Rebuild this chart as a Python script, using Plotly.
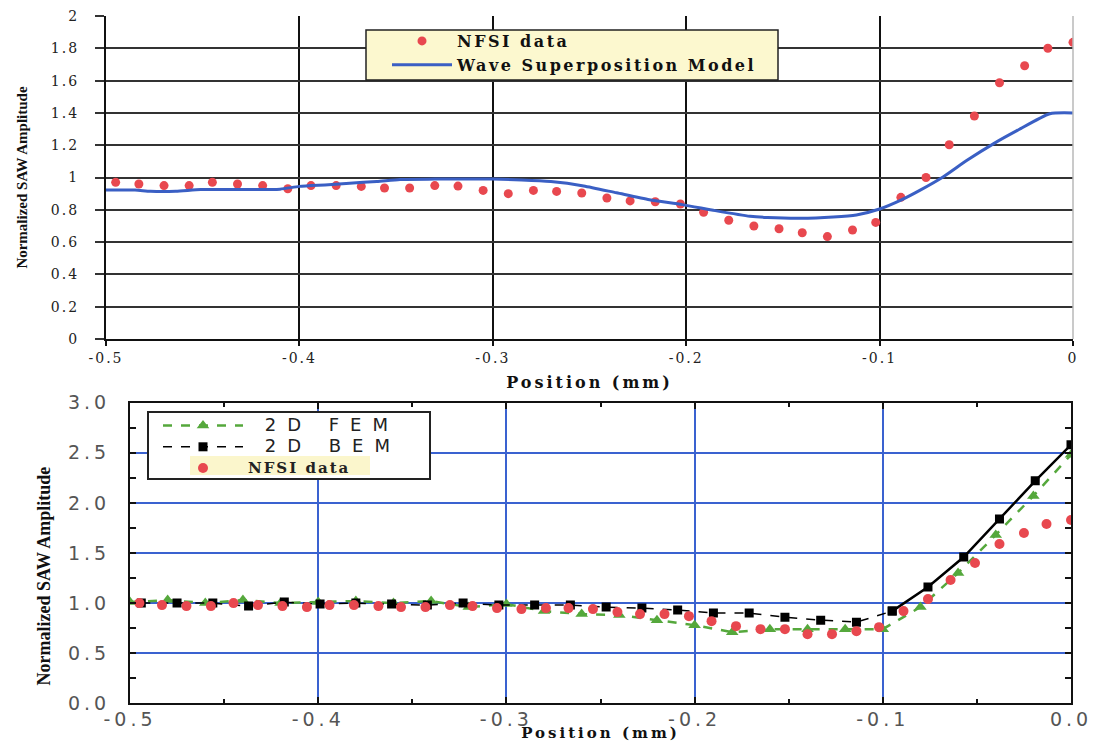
import plotly.graph_objects as go

# ---------------- data ----------------
pos_nfsi = [-0.495, -0.483, -0.470, -0.457, -0.445, -0.432, -0.419, -0.406, -0.394, -0.381,
            -0.368, -0.356, -0.343, -0.330, -0.318, -0.305, -0.292, -0.279, -0.267, -0.254,
            -0.241, -0.229, -0.216, -0.203, -0.191, -0.178, -0.165, -0.152, -0.140, -0.127,
            -0.114, -0.102, -0.089, -0.076, -0.064, -0.051, -0.038, -0.025, -0.013, 0.000]
top_nfsi = [0.97, 0.96, 0.95, 0.95, 0.97, 0.96, 0.95, 0.93, 0.95, 0.95,
            0.945, 0.935, 0.935, 0.95, 0.947, 0.92, 0.90, 0.92, 0.914, 0.904,
            0.873, 0.855, 0.85, 0.836, 0.785, 0.735, 0.70, 0.683, 0.658, 0.634,
            0.675, 0.722, 0.877, 1.0, 1.203, 1.381, 1.587, 1.692, 1.80, 1.837]

model_x = [-0.500, -0.485, -0.477, -0.464, -0.451, -0.430, -0.410, -0.400, -0.385, -0.374,
           -0.360, -0.348, -0.330, -0.300, -0.285, -0.270, -0.253, -0.236, -0.219, -0.202,
           -0.185, -0.167, -0.158, -0.141, -0.124, -0.112, -0.100, -0.089, -0.079, -0.067,
           -0.055, -0.041, -0.029, -0.012, 0.000]
model_y = [0.923, 0.922, 0.915, 0.915, 0.925, 0.925, 0.928, 0.945, 0.955, 0.965,
           0.975, 0.988, 0.99, 0.99, 0.985, 0.975, 0.948, 0.905, 0.862, 0.832,
           0.795, 0.76, 0.752, 0.747, 0.755, 0.768, 0.805, 0.86, 0.922, 1.005,
           1.105, 1.21, 1.29, 1.395, 1.40]

bot_nfsi = [1.00, 0.98, 0.97, 0.97, 1.00, 0.98, 0.97, 0.96, 0.98, 0.98,
            0.97, 0.96, 0.96, 0.98, 0.97, 0.95, 0.94, 0.95, 0.95, 0.94,
            0.91, 0.89, 0.89, 0.87, 0.82, 0.77, 0.74, 0.74, 0.69, 0.69,
            0.72, 0.76, 0.92, 1.04, 1.23, 1.40, 1.59, 1.70, 1.79, 1.83]

fem_x = [-0.50, -0.48, -0.46, -0.44, -0.42, -0.40, -0.38, -0.36, -0.34, -0.32,
         -0.30, -0.28, -0.26, -0.24, -0.22, -0.20, -0.18, -0.16, -0.14, -0.12,
         -0.10, -0.08, -0.06, -0.04, -0.02, 0.00]
fem_y = [1.01, 1.03, 1.00, 1.03, 1.00, 1.01, 1.02, 1.00, 1.02, 0.96,
         0.99, 0.92, 0.89, 0.88, 0.83, 0.78, 0.71, 0.74, 0.74, 0.74,
         0.74, 0.96, 1.30, 1.68, 2.07, 2.48]

bem_x = [-0.494, -0.475, -0.456, -0.437, -0.418, -0.399, -0.380, -0.361, -0.342, -0.323,
         -0.304, -0.285, -0.266, -0.247, -0.228, -0.209, -0.190, -0.171, -0.152, -0.133,
         -0.114, -0.095, -0.076, -0.057, -0.038, -0.019, 0.000]
bem_y = [1.00, 1.00, 1.00, 0.97, 1.01, 0.99, 1.00, 0.99, 0.98, 1.00,
         0.98, 0.98, 0.98, 0.96, 0.95, 0.93, 0.90, 0.90, 0.86, 0.83,
         0.81, 0.92, 1.16, 1.46, 1.84, 2.22, 2.58]

top_xticks = [-0.5, -0.4, -0.3, -0.2, -0.1, 0.0]
top_xlabels = ["-0.5", "-0.4", "-0.3", "-0.2", "-0.1", "0"]
top_yticks = [0.0, 0.2, 0.4, 0.6, 0.8, 1.0, 1.2, 1.4, 1.6, 1.8, 2.0]
top_ylabels = ["0", "0.2", "0.4", "0.6", "0.8", "1", "1.2", "1.4", "1.6", "1.8", "2"]
bot_xlabels = ["-0.5", "-0.4", "-0.3", "-0.2", "-0.1", "0.0"]
bot_yticks = [0.0, 0.5, 1.0, 1.5, 2.0, 2.5, 3.0]
bot_ylabels = ["0.0", "0.5", "1.0", "1.5", "2.0", "2.5", "3.0"]

RED = "#e8484f"
BLUE = "#3a5fc4"
GREEN = "#55a83c"
W, H = 1100, 742


def px(x):
    return x / W


def py(y):
    return 1 - y / H


def spaced(t, sp):
    return "<span style='letter-spacing:%spx'>%s</span>" % (sp, t)


SERIF = "DejaVu Serif"
SANS = "DejaVu Sans"

fig = go.Figure()

# ---- top panel ----
fig.add_trace(go.Scatter(x=pos_nfsi, y=top_nfsi, mode="markers", name=spaced("<b>NFSI data</b>", 2.5),
                         marker=dict(color=RED, size=9, symbol="circle", line=dict(width=0)),
                         xaxis="x", yaxis="y", legend="legend"))
fig.add_trace(go.Scatter(x=model_x, y=model_y, mode="lines",
                         name=spaced("<b>Wave Superposition Model</b>", 2.5),
                         line=dict(color=BLUE, width=3, shape="spline", smoothing=0.6),
                         xaxis="x", yaxis="y", legend="legend"))

# ---- bottom panel ----
split = bem_x.index(-0.095)
fig.add_trace(go.Scatter(x=fem_x, y=fem_y, mode="lines+markers",
                         name="<span style='letter-spacing:11px;font-size:18px'>\u00a02D FEM</span>",
                         line=dict(color=GREEN, width=2.5, dash="dash"),
                         marker=dict(color=GREEN, size=11, symbol="triangle-up"),
                         xaxis="x2", yaxis="y2", legend="legend2"))
fig.add_trace(go.Scatter(x=bem_x[:split + 1], y=bem_y[:split + 1], mode="lines+markers",
                         name="<span style='letter-spacing:11px;font-size:18px'>\u00a02D BEM</span>",
                         line=dict(color="black", width=1.5, dash="dash"),
                         marker=dict(color="black", size=9, symbol="square"),
                         xaxis="x2", yaxis="y2", legend="legend2"))
fig.add_trace(go.Scatter(x=bem_x[split:], y=bem_y[split:], mode="lines+markers", name="2D BEM",
                         line=dict(color="black", width=2.5),
                         marker=dict(color="black", size=9, symbol="square"),
                         xaxis="x2", yaxis="y2", showlegend=False))
fig.add_trace(go.Scatter(x=pos_nfsi, y=bot_nfsi, mode="markers",
                         name="<span style='font-family:DejaVu Serif;font-weight:bold;font-size:15px;letter-spacing:2px'>NFSI data</span>",
                         marker=dict(color=RED, size=10, symbol="circle", line=dict(width=0)),
                         xaxis="x2", yaxis="y2", legend="legend2"))

top_dom_x = [px(106), px(1073)]
top_dom_y = [py(339), py(16)]
bot_dom_x = [px(130), px(1071)]
bot_dom_y = [py(703.3), py(402.7)]

shapes = [
    dict(type="line", xref="paper", yref="paper", x0=top_dom_x[1], x1=top_dom_x[1],
         y0=top_dom_y[0], y1=top_dom_y[1], line=dict(color="#b8b8b8", width=1.5)),
    dict(type="rect", xref="paper", yref="paper", x0=px(366), x1=px(778), y0=py(80), y1=py(30),
         fillcolor="#fcf8cf", line=dict(color="#222", width=1.5), layer="above"),
    dict(type="rect", xref="paper", yref="paper", x0=px(148), x1=px(430), y0=py(479), y1=py(412),
         fillcolor="white", line=dict(color="#222", width=2), layer="above"),
    dict(type="rect", xref="paper", yref="paper", x0=px(190), x1=px(370), y0=py(475), y1=py(456),
         fillcolor="#fbf6cc", line=dict(width=0), layer="above"),
]

annotations = [
    dict(text="<b>Normalized SAW Amplitude</b>", xref="paper", yref="paper",
         x=px(43), y=py(465), xanchor="center", yanchor="top", textangle=-90, showarrow=False,
         font=dict(family="Liberation Serif", size=18, color="#111")),
]

fig.update_layout(
    width=W, height=H,
    margin=dict(l=0, r=0, t=0, b=0),
    paper_bgcolor="white", plot_bgcolor="white",
    shapes=shapes, annotations=annotations,
    xaxis=dict(domain=top_dom_x, anchor="y", range=[-0.5, 0], tickvals=top_xticks,
               ticktext=[spaced(t, 2) for t in top_xlabels],
               showgrid=True, gridcolor="#111", gridwidth=2.2, zeroline=False,
               showline=True, linecolor="#111", linewidth=2.2,
               ticks="outside", ticklen=5, tickcolor="#111", tickwidth=1.5,
               ticklabelstandoff=0,
               tickfont=dict(family=SERIF, size=14, color="#222"),
               title=dict(text=spaced("<b>Position (mm)</b>", 3), font=dict(family=SERIF, size=16, color="#111"),
                          standoff=12),
               automargin=False),
    yaxis=dict(domain=top_dom_y, anchor="x", range=[0, 2], tickvals=top_yticks,
               ticktext=[spaced(t, 2) for t in top_ylabels],
               showgrid=True, gridcolor="#333", gridwidth=1.5, zeroline=False,
               showline=True, linecolor="#111", linewidth=2.2,
               ticks="outside", ticklen=9, tickcolor="#333", tickwidth=1.5,
               ticklabelstandoff=13,
               tickfont=dict(family=SERIF, size=14, color="#222"),
               title=dict(text="<b>Normalized SAW Amplitude</b>",
                          font=dict(family="Liberation Serif", size=15, color="#111"), standoff=20),
               automargin=False),
    xaxis2=dict(domain=bot_dom_x, anchor="y2", range=[-0.5, 0], tickvals=top_xticks,
                ticktext=[spaced(t, 4) for t in bot_xlabels],
                showgrid=True, gridcolor="#3a62d0", gridwidth=1.6, zeroline=False,
                showline=True, linecolor="#111", linewidth=2, mirror="allticks",
                ticks="inside", ticklen=6, tickcolor="#111", tickwidth=1.5,
                minor=dict(dtick=0.05, ticks="inside", ticklen=4, tickcolor="#111", showgrid=False),
                ticklabelstandoff=-2,
                tickfont=dict(family=SANS, size=19, color="#555"),
                title=dict(text=spaced("<b>Position (mm)</b>", 3), font=dict(family=SERIF, size=15, color="#111"),
                           standoff=0),
                automargin=False),
    yaxis2=dict(domain=bot_dom_y, anchor="x2", range=[0, 3], tickvals=bot_yticks,
                ticktext=[spaced(t, 4) for t in bot_ylabels],
                showgrid=True, gridcolor="#3a62d0", gridwidth=1.6, zeroline=False,
                showline=True, linecolor="#111", linewidth=2, mirror="allticks",
                ticks="inside", ticklen=6, tickcolor="#111", tickwidth=1.5,
                minor=dict(dtick=0.25, ticks="inside", ticklen=6, tickcolor="#111", showgrid=False),
                ticklabelstandoff=14,
                tickfont=dict(family=SANS, size=19, color="#555"),
                automargin=False),
    legend=dict(x=px(387), y=py(24), xanchor="left", yanchor="top",
                bgcolor="rgba(0,0,0,0)", borderwidth=0, itemwidth=60,
                font=dict(family=SERIF, size=16, color="#111"), tracegroupgap=0),
    legend2=dict(x=px(158), y=py(410), xanchor="left", yanchor="top",
                 bgcolor="rgba(0,0,0,0)", borderwidth=0, itemwidth=80,
                 font=dict(family=SANS, size=14, color="#222"), tracegroupgap=0),
)

fig.write_html("out.html", config={"displayModeBar": False},
               post_script="document.body.style.margin='0px';")
